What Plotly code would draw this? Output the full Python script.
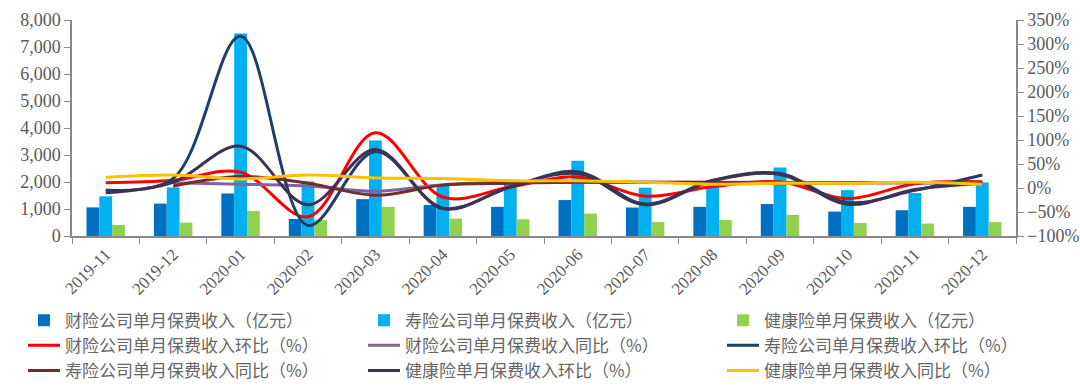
import plotly.graph_objects as go

months = ["2019-11", "2019-12", "2020-01", "2020-02", "2020-03", "2020-04", "2020-05",
          "2020-06", "2020-07", "2020-08", "2020-09", "2020-10", "2020-11", "2020-12"]

# 单月保费收入（亿元）
pc_income = [1060, 1200, 1575, 630, 1365, 1150, 1080, 1330, 1055, 1080, 1185, 905, 955, 1080]
life_income = [1470, 1800, 7500, 2020, 3535, 1860, 1980, 2790, 1790, 1830, 2540, 1700, 1590, 1985]
health_income = [410, 495, 930, 590, 1080, 645, 620, 830, 520, 590, 780, 485, 460, 520]

# 环比 / 同比（%）
pc_mom = [11, 16, 33, -60, 115, -19, 2, 23, -17, 3, 13, -22, 9, 13]
pc_yoy = [None, 11, 8, 4, -7, 7, 12, 12, 12, 12, 12, 11, 11, 11]
life_mom = [-4, 20, 316, -78, 76, -42, 2, 34, -33, 16, 30, -30, -5, 27]
life_yoy = [None, 4, 24, 10, -15, 6, 10, 12, 12, 12, 10, 11, 11, 10]
health_mom = [-10, 12, 87, -35, 80, -43, 2, 30, -35, 15, 28, -34, -3, 10]
health_yoy = [22, 27, 19, 27, 21, 20, 15, 15, 12, 8, 10, 10, 12, 8]

fig = go.Figure()

bar_specs = [
    ("财险公司单月保费收入（亿元）", pc_income, "#0070C0", "legend"),
    ("寿险公司单月保费收入（亿元）", life_income, "#00B0F0", "legend2"),
    ("健康险单月保费收入（亿元）", health_income, "#92D050", "legend3"),
]
for name, vals, col, lg in bar_specs:
    fig.add_trace(go.Bar(x=months, y=vals, name=name, marker=dict(color=col, line=dict(width=0)),
                         yaxis="y", legend=lg))

line_specs = [
    ("财险公司单月保费收入环比（%）", pc_mom, "#FF0000", "legend"),
    ("财险公司单月保费收入同比（%）", pc_yoy, "#8064A2", "legend2"),
    ("寿险公司单月保费收入环比（%）", life_mom, "#1F3F66", "legend3"),
    ("寿险公司单月保费收入同比（%）", life_yoy, "#772C2A", "legend"),
    ("健康险单月保费收入环比（%）", health_mom, "#403152", "legend2"),
    ("健康险单月保费收入同比（%）", health_yoy, "#FFC000", "legend3"),
]
for name, vals, col, lg in line_specs:
    fig.add_trace(go.Scatter(x=months, y=vals, name=name, mode="lines",
                             line=dict(color=col, width=3, shape="spline", smoothing=1.0),
                             yaxis="y2", connectgaps=False, legend=lg))

axis_col = "#898989"
serif = "Liberation Serif"
tick_font = dict(family=serif, size=18, color="#595959")
legend_font = dict(family="Noto Sans CJK SC", size=17, color="#666666")


def legend_box(xpx):
    return dict(orientation="v", xref="container", yref="container", x=xpx / 1080, y=0.222,
                xanchor="left", yanchor="top", itemwidth=32, tracegroupgap=0,
                traceorder="normal", font=legend_font, bgcolor="rgba(0,0,0,0)")


fig.update_layout(
    width=1080, height=389,
    margin=dict(l=72, r=64, t=20, b=153, autoexpand=False),
    paper_bgcolor="white", plot_bgcolor="white",
    barmode="group", bargap=0.43, bargroupgap=0,
    showlegend=True,
    legend=legend_box(23),
    legend2=legend_box(363),
    legend3=legend_box(722),
    xaxis=dict(type="category", tickson="boundaries", ticks="outside", ticklen=6,
               tickcolor=axis_col, showline=True, linecolor=axis_col, linewidth=1.5,
               tickangle=-45, automargin=False,
               tickfont=dict(family=serif, size=17, color="#595959"),
               showgrid=False, zeroline=False),
    yaxis=dict(range=[0, 8000], dtick=1000, tickformat=",", ticks="outside", ticklen=6,
               tickcolor=axis_col, showline=True, linecolor=axis_col, linewidth=1.5,
               automargin=False, showgrid=False, zeroline=False, tickfont=tick_font),
    yaxis2=dict(range=[-100, 350], dtick=50, ticksuffix="%", overlaying="y", side="right",
                ticks="outside", ticklen=6, tickcolor=axis_col, showline=True, linecolor=axis_col,
                automargin=False, linewidth=1.5, showgrid=False, zeroline=False, tickfont=tick_font),
)

fig.write_html("out.html", config={"displayModeBar": False},
               post_script="document.body.style.margin='0';document.body.style.overflow='hidden';")
